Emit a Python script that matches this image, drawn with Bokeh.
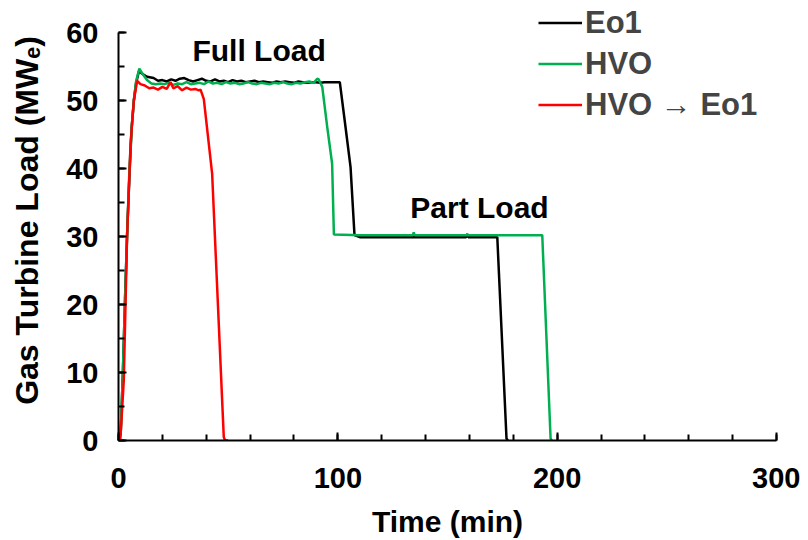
from bokeh.plotting import figure
from bokeh.models import Range1d, FixedTicker, Label, Legend, LegendItem
from bokeh.embed import file_html
from bokeh.resources import INLINE

# ---------------- data ----------------
eo1_t = [0, 1, 2, 3, 4, 5, 6, 7, 8, 9.3, 11, 13, 16, 18, 20, 22, 24, 26, 28, 30,
         32, 34, 36, 38, 40, 42, 44, 46, 48, 50, 52, 54, 56, 58, 60, 62, 64, 66,
         68, 70, 72, 74, 76, 78, 80, 82, 84, 86, 88, 90, 92, 94, 96, 98, 100.9,
         103.5, 105.8, 107.6, 110, 120, 130, 140, 150, 158.5, 159, 159.5, 165,
         172.7, 176.9, 177.5]
eo1_v = [0, 1, 10, 21, 31, 39, 46, 50, 52.5, 54.3, 53.9, 53.5, 53.3, 52.9, 53.0,
         52.8, 53.1, 52.9, 53.2, 53.3, 53.0, 52.8, 53.0, 53.2, 52.9, 52.8, 53.1,
         52.8, 52.9, 52.7, 53.0, 52.8, 52.9, 52.7, 52.8, 52.9, 52.7, 52.8, 52.7,
         52.6, 52.8, 52.7, 52.8, 52.7, 52.6, 52.8, 52.7, 52.6, 52.7, 52.7, 52.6,
         52.7, 52.7, 52.7, 52.7, 46.1, 40.2, 30.2, 29.9, 29.9, 29.9, 29.9, 29.9,
         29.9, 30.4, 29.9, 29.9, 29.9, 0.3, 0]

hvo_t = [0, 1, 2, 3, 4, 5, 6, 7, 8, 9.5, 11, 13, 15, 17, 19, 21, 23, 25, 27, 29,
         31, 33, 35, 37, 39, 41, 43, 45, 47, 49, 51, 53, 55, 57, 59, 61, 63, 65,
         67, 69, 71, 73, 75, 77, 79, 81, 83, 85, 87, 89, 90.6, 91.3, 92.9, 95.2,
         97.4, 98.2, 110, 120, 130, 134.2, 134.6, 135, 150, 170, 185, 193.2, 197,
         197.5]
hvo_v = [0, 1, 10, 21, 31, 40, 46, 50, 52.8, 54.7, 53.9, 53.0, 52.5, 52.4, 52.5,
         52.4, 52.6, 52.3, 52.5, 52.4, 52.7, 52.4, 52.5, 52.6, 52.4, 52.8, 52.5,
         52.6, 52.4, 52.7, 52.5, 52.6, 52.4, 52.5, 52.7, 52.5, 52.4, 52.6, 52.5,
         52.4, 52.6, 52.5, 52.7, 52.5, 52.4, 52.6, 52.5, 52.7, 52.8, 52.6, 53.2,
         53.1, 52.0, 46.0, 40.7, 30.3, 30.2, 30.2, 30.2, 30.2, 30.6, 30.2, 30.2,
         30.2, 30.2, 30.2, 0.3, 0]

mix_t = [0, 0.8, 2.4, 3.9, 5.5, 7, 8.5, 10, 12, 14, 16, 18, 20, 22, 23.7, 25, 27,
         29, 31, 33, 35, 36.6, 37.4, 38.9, 42.7, 48, 48.6, 50]
mix_v = [0, 0, 8.8, 29.9, 43.6, 50, 52.9, 52.4, 52.2, 51.8, 51.9, 51.6, 52.0,
         51.7, 52.7, 51.8, 52.1, 51.5, 51.9, 51.6, 51.7, 51.5, 51.6, 50.2, 39.2,
         0.5, 0, 0]

series_names = ["Eo1", "HVO", "HVO \u2192 Eo1"]
series_colors = ["#000000", "#00B050", "#FF0000"]

x_major = [0, 100, 200, 300]
x_minor = list(range(0, 301, 20))
y_major = [0, 10, 20, 30, 40, 50, 60]
y_minor = list(range(0, 61, 5))

annotations = [("Full Load", 64.1, 57.4), ("Part Load", 164.6, 34.2)]

FONT = "Liberation Sans"

p = figure(frame_width=658, frame_height=440, width=800, height=532,
           x_range=Range1d(0, 300), y_range=Range1d(0, 64.706),
           output_backend="svg", toolbar_location=None,
           min_border_left=118, min_border_top=0, min_border_right=24,
           min_border_bottom=92)
p.outline_line_color = None
p.xgrid.grid_line_color = None
p.ygrid.grid_line_color = None

renderers = []
for (t, v), c in zip([(eo1_t, eo1_v), (hvo_t, hvo_v), (mix_t, mix_v)], series_colors):
    r = p.line(t, v, line_color=c, line_width=2.5)
    renderers.append(r)

p.xaxis.ticker = FixedTicker(ticks=x_major, minor_ticks=x_minor)
p.yaxis.ticker = FixedTicker(ticks=y_major, minor_ticks=y_minor)
p.yaxis.bounds = (0, 60)
for ax in (p.xaxis, p.yaxis):
    ax.axis_line_width = 2
    ax.axis_line_color = "black"
    ax.major_tick_line_width = 2
    ax.minor_tick_line_width = 2
    ax.major_tick_line_color = "black"
    ax.minor_tick_line_color = "black"
    ax.major_tick_in = 8
    ax.major_tick_out = 0
    ax.minor_tick_in = 6
    ax.minor_tick_out = 0
    ax.major_label_text_font = FONT
    ax.major_label_text_font_style = "bold"
    ax.major_label_text_font_size = "29px"
    ax.major_label_text_color = "black"
    ax.axis_label_text_font = FONT
    ax.axis_label_text_font_style = "bold"
    ax.axis_label_text_color = "black"

p.xaxis.axis_label = "Time (min)"
p.yaxis.axis_label = "Gas Turbine Load (MW\u2091)"
p.xaxis.axis_label_text_font_size = "30px"
p.yaxis.axis_label_text_font_size = "32px"
p.xaxis.major_label_standoff = 27
p.yaxis.major_label_standoff = 20
p.xaxis.axis_label_standoff = 14
p.yaxis.axis_label_standoff = 18

for txt, x, y in annotations:
    p.add_layout(Label(x=x, y=y, text=txt, text_align="center", text_baseline="alphabetic",
                       text_font=FONT, text_font_style="bold", text_font_size="30px",
                       text_color="black"))

legend = Legend(items=[LegendItem(label=n, renderers=[r]) for n, r in zip(series_names, renderers)],
                location=(420, 315), glyph_width=44, glyph_height=41, label_height=41,
                spacing=0, padding=0, margin=0, label_standoff=3,
                label_text_font=FONT, label_text_font_style="bold",
                label_text_font_size="31px", background_fill_alpha=0,
                border_line_color=None)
p.add_layout(legend, "center")

open("out.html", "w").write(file_html(p, INLINE))
